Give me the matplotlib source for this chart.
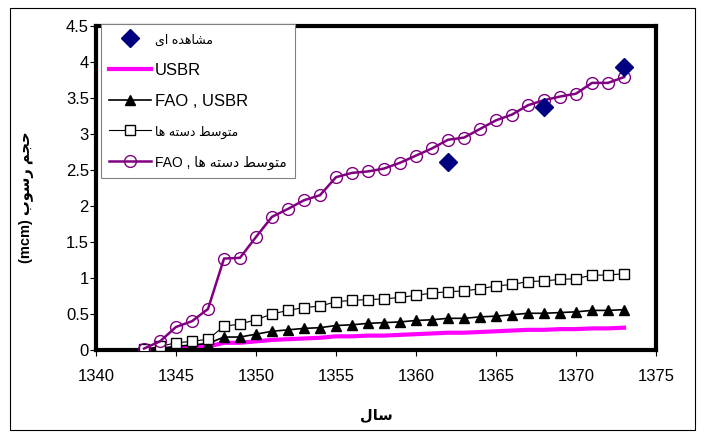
import matplotlib
matplotlib.use("Agg")
import matplotlib.pyplot as plt
from matplotlib.patches import Rectangle

plt.rcParams['font.family'] = ['Liberation Sans', 'DejaVu Sans']

years = list(range(1343, 1374))

usbr = [0.0, 0.01, 0.03, 0.04, 0.05, 0.10, 0.10, 0.12, 0.14, 0.15, 0.16, 0.17, 0.19, 0.19, 0.20, 0.20,
        0.21, 0.22, 0.23, 0.24, 0.24, 0.25, 0.26, 0.27, 0.28, 0.28, 0.29, 0.29, 0.30, 0.30, 0.31]
fao_usbr = [0.0, 0.02, 0.05, 0.07, 0.09, 0.18, 0.18, 0.22, 0.26, 0.28, 0.30, 0.31, 0.34, 0.35, 0.37, 0.38,
            0.39, 0.41, 0.42, 0.44, 0.44, 0.46, 0.47, 0.49, 0.51, 0.51, 0.52, 0.53, 0.55, 0.55, 0.56]
avg_groups = [0.01, 0.05, 0.10, 0.12, 0.15, 0.33, 0.36, 0.42, 0.50, 0.55, 0.59, 0.61, 0.67, 0.69, 0.70, 0.71,
              0.73, 0.76, 0.79, 0.81, 0.82, 0.85, 0.89, 0.91, 0.95, 0.96, 0.98, 0.99, 1.04, 1.04, 1.06]
fao_avg = [0.02, 0.12, 0.32, 0.40, 0.57, 1.27, 1.28, 1.57, 1.85, 1.96, 2.08, 2.15, 2.40, 2.46, 2.48, 2.52,
           2.60, 2.70, 2.80, 2.92, 2.95, 3.07, 3.19, 3.27, 3.40, 3.47, 3.52, 3.56, 3.71, 3.71, 3.79]

obs_years = [1362, 1368, 1373]
obs_vals = [2.61, 3.38, 3.93]

# Persian text written in visual order with presentation forms (no bidi shaping in matplotlib)
lbl_obs = "\uFEEF\uFE8D \uFEE9\uFEAA\uFEEB\uFE8E\uFEB8\uFEE3"            # مشاهده ای
lbl_avg = "\uFE8E\uFEEB \uFEEA\uFE98\uFEB3\uFEA9 \uFEC2\uFEB3\uFEEE\uFE98\uFEE3"  # متوسط دسته ها
lbl_fao_avg = "FAO , " + lbl_avg
ylab = "(mcm) \uFE8F\uFEEE\uFEB3\uFEAD \uFEE2\uFEA0\uFEA3"             # حجم رسوب (mcm)
xlab = "\uFEDD\uFE8E\uFEB3"                                            # سال

fig = plt.figure(figsize=(7.04, 4.4), dpi=100)
ax = fig.add_axes([96 / 704, 1 - 350 / 440, 560 / 704, 324 / 440])

ax.plot(obs_years, obs_vals, linestyle='none', marker='D', color='#000080', markersize=9.5,
        label=lbl_obs, zorder=6)
ax.plot(years, usbr, color='#FF00FF', linewidth=3, label='USBR', zorder=2)
ax.plot(years, fao_usbr, color='black', linewidth=1.2, marker='^', markersize=7,
        label='FAO , USBR', zorder=3)
ax.plot(years, avg_groups, color='black', linewidth=0.8, marker='s', markersize=6.5,
        markerfacecolor='white', markeredgewidth=1, label=lbl_avg, zorder=4)
ax.plot(years, fao_avg, color='#800080', linewidth=1.8, marker='o', markersize=8.5,
        markerfacecolor='none', markeredgewidth=1, label=lbl_fao_avg, zorder=5)

ax.set_xlim(1340, 1375)
ax.set_ylim(0, 4.5)
ax.set_xticks(range(1340, 1376, 5))
ax.set_yticks([0, 0.5, 1, 1.5, 2, 2.5, 3, 3.5, 4, 4.5])
ax.set_yticklabels(['0', '0.5', '1', '1.5', '2', '2.5', '3', '3.5', '4', '4.5'])
ax.tick_params(axis='x', direction='out', length=4, width=0.8, labelsize=12, pad=10)
ax.tick_params(axis='y', direction='out', length=4.3, width=0.8, labelsize=12, pad=0.8)
for s in ax.spines.values():
    s.set_linewidth(3)
    s.set_color('black')

ax.set_ylabel(ylab, fontsize=10.5, fontweight='bold')
ax.yaxis.set_label_coords(-0.111, 0.472)
ax.set_xlabel(xlab, fontsize=10.5, fontweight='bold')
ax.xaxis.set_label_coords(0.5, -0.179)

leg = ax.legend(loc='upper left', bbox_to_anchor=(101 / 704, 1 - 24 / 440),
                bbox_transform=fig.transFigure, fontsize=12, frameon=True, fancybox=False,
                handlelength=2.5, handletextpad=0.25, labelspacing=0.95, borderpad=0.5,
                borderaxespad=0, framealpha=1)
leg.get_frame().set_edgecolor('#808080')
leg.get_frame().set_linewidth(0.8)
leg.set_zorder(10)
texts = leg.get_texts()
texts[0].set_fontsize(9)
texts[3].set_fontsize(9)
texts[4].set_fontsize(10)

fig.patches.append(Rectangle((10 / 704, 1 - 430 / 440), 685 / 704, 422 / 440,
                             transform=fig.transFigure, fill=False, edgecolor='black',
                             linewidth=0.8))

fig.savefig('out.png', dpi=100)
